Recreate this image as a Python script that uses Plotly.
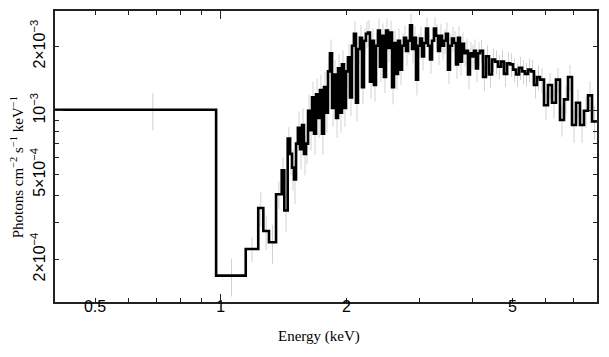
import plotly.graph_objects as go

# Bin edges (keV)
edges = [
    0.40, 0.975, 1.148, 1.23, 1.265, 1.305, 1.357, 1.40, 1.42, 1.447, 1.466,
    1.482, 1.498, 1.515, 1.531, 1.549, 1.566, 1.583, 1.601, 1.619, 1.637,
    1.655, 1.673, 1.692, 1.711, 1.729, 1.748, 1.768, 1.787, 1.807, 1.827,
    1.848, 1.868, 1.889, 1.910, 1.931, 1.952, 1.974, 1.996, 2.018, 2.040,
    2.063, 2.086, 2.109, 2.132, 2.156, 2.180, 2.204, 2.228, 2.253, 2.278,
    2.303, 2.329, 2.355, 2.381, 2.407, 2.434, 2.461, 2.489, 2.516, 2.544,
    2.573, 2.601, 2.630, 2.659, 2.689, 2.719, 2.749, 2.780, 2.810, 2.842,
    2.873, 2.905, 2.937, 2.970, 3.003, 3.036, 3.069, 3.104, 3.138, 3.173,
    3.208, 3.243, 3.280, 3.316, 3.352, 3.389, 3.427, 3.465, 3.503, 3.542,
    3.581, 3.621, 3.661, 3.702, 3.743, 3.785, 3.826, 3.869, 3.912, 3.955,
    3.999, 4.044, 4.088, 4.134, 4.180,
    4.250, 4.320, 4.393, 4.467, 4.541, 4.617, 4.695, 4.772, 4.853, 4.934,
    5.016, 5.100, 5.185, 5.271, 5.357, 5.447, 5.538, 5.630, 5.724, 5.820,
    5.950, 6.082, 6.218, 6.356, 6.499, 6.644, 6.792, 6.944, 7.099, 7.257,
    7.419, 7.586, 7.755, 7.966,
]

# Flux in units of 1e-3 photons cm^-2 s^-1 keV^-1
flux_e3 = [
    1.01, 0.168, 0.224, 0.349, 0.272, 0.241, 0.405, 0.525, 0.34, 0.74,
    0.627, 0.54, 0.475, 0.70, 0.83, 0.66, 0.856, 0.627, 0.70, 1.0,
    0.81, 1.155, 0.78, 1.195, 0.925, 1.25, 0.78, 1.29, 0.978, 1.53,
    1.86, 1.03, 1.48, 0.925, 1.58, 0.978, 1.65, 1.03, 1.53, 1.78,
    1.155, 2.02, 2.30, 1.09, 1.95, 2.20, 1.29, 2.13, 2.30, 2.33,
    1.37, 2.13, 1.32, 2.02, 2.38, 1.61, 2.25, 1.44, 2.38, 1.97,
    2.33, 1.29, 2.08, 1.49, 2.13, 1.56, 2.02, 2.20, 1.91, 2.13,
    2.52, 1.95, 2.20, 1.40, 2.02, 2.18, 1.80, 2.08, 2.43, 2.02,
    1.74, 2.13, 2.43, 2.25, 1.91, 2.25, 2.02, 2.13, 2.30, 1.56,
    2.02, 2.18, 2.08, 1.65, 2.20, 1.70, 2.06, 1.86, 1.91, 1.48,
    1.86, 1.80, 1.91, 1.58, 1.86,
    1.91, 1.44, 1.80, 1.48, 1.74, 1.70, 1.61, 1.70, 1.49, 1.67,
    1.65, 1.56, 1.48, 1.59, 1.53, 1.49, 1.56, 1.53, 1.32, 1.44,
    1.40, 1.06, 1.32, 1.09, 1.40, 0.905, 1.13, 1.44, 0.856, 1.09,
    0.856, 1.0, 1.18, 0.89,
]

# 1-sigma errors, same units
err_e3 = [
    0.20, 0.034, 0.03, 0.065, 0.05, 0.05, 0.06, 0.08, 0.07, 0.10,
    0.13, 0.12, 0.11, 0.14, 0.16, 0.13, 0.17, 0.13, 0.14, 0.19,
    0.16, 0.21, 0.16, 0.22, 0.18, 0.22, 0.16, 0.23, 0.19, 0.26,
    0.30, 0.19, 0.25, 0.18, 0.26, 0.19, 0.27, 0.19, 0.25, 0.28,
    0.21, 0.31, 0.34, 0.20, 0.30, 0.32, 0.22, 0.31, 0.33, 0.33,
    0.23, 0.31, 0.22, 0.30, 0.33, 0.25, 0.32, 0.23, 0.33, 0.29,
    0.32, 0.22, 0.30, 0.24, 0.30, 0.24, 0.29, 0.31, 0.28, 0.30,
    0.34, 0.28, 0.30, 0.22, 0.28, 0.30, 0.26, 0.29, 0.32, 0.28,
    0.25, 0.29, 0.32, 0.30, 0.27, 0.30, 0.28, 0.29, 0.30, 0.23,
    0.27, 0.29, 0.28, 0.24, 0.29, 0.24, 0.27, 0.25, 0.26, 0.22,
    0.25, 0.24, 0.25, 0.22, 0.24,
    0.24, 0.20, 0.23, 0.20, 0.22, 0.22, 0.21, 0.22, 0.20, 0.21,
    0.21, 0.20, 0.19, 0.20, 0.20, 0.19, 0.20, 0.20, 0.18, 0.19,
    0.19, 0.16, 0.18, 0.17, 0.19, 0.15, 0.17, 0.20, 0.15, 0.17,
    0.15, 0.17, 0.19, 0.16,
]

x_labels_vals = [0.5, 0.6, 0.7, 0.8, 0.9, 1, 2, 3, 4, 5, 6, 7]
x_labels_text = ["0.5", " ", " ", " ", " ", "1", "2", " ", " ", "5", " ", " "]
y_tick_vals = [2e-4, 3e-4, 4e-4, 5e-4, 6e-4, 7e-4, 8e-4, 9e-4, 1e-3, 2e-3]
y_tick_text = ["2×10<sup>−4</sup>", " ", " ", "5×10<sup>−4</sup>", " ", " ", " ", " ",
               "10<sup>−3</sup>", "2×10<sup>−3</sup>"]
x_title = "Energy (keV)"
y_title = "Photons cm<sup>−2</sup> s<sup>−1</sup> keV<sup>−1</sup>"

flux = [v * 1e-3 for v in flux_e3]
err = [v * 1e-3 for v in err_e3]
centers = [(a + b) / 2 for a, b in zip(edges[:-1], edges[1:])]

XR = [-0.397, 0.9015]
YR = [-3.8986, -2.5317]
AX = "#222222"

fig = go.Figure()
fig.add_trace(go.Scatter(
    x=centers, y=flux, mode="markers",
    marker=dict(size=1, color="rgba(0,0,0,0)"),
    error_y=dict(type="data", array=err, color="#d2d2d2", thickness=1, width=0),
    showlegend=False, hoverinfo="skip"))
fig.add_trace(go.Scatter(
    x=edges, y=flux + [flux[-1]], mode="lines", line_shape="hv",
    line=dict(color="black", width=2.6), showlegend=False))
fig.add_trace(go.Scatter(x=[], y=[], xaxis="x2", yaxis="y2", showlegend=False))

tickfont = dict(family="Liberation Sans, Arial, sans-serif", size=16, color="black")
titlefont = dict(family="Liberation Serif, Times New Roman, serif", size=15, color="black")

# the page body has an 8px default margin, so the figure is shrunk by that amount
fig.update_layout(
    width=601, height=349,
    margin=dict(l=47, r=12, t=3, b=55),
    paper_bgcolor="white", plot_bgcolor="white",
    xaxis=dict(type="log", range=XR, tickvals=x_labels_vals, ticktext=x_labels_text,
               ticks="inside", ticklen=4, tickwidth=1.3, tickcolor=AX,
               showline=True, linecolor=AX, linewidth=1.5, mirror="ticks",
               showgrid=False, zeroline=False, tickfont=tickfont,
               ticklabelstandoff=-11, automargin=False),
    yaxis=dict(type="log", range=YR, tickvals=y_tick_vals, ticktext=y_tick_text,
               ticks="inside", ticklen=4, tickwidth=1.3, tickcolor=AX,
               showline=True, linecolor=AX, linewidth=1.5, mirror="ticks",
               showgrid=False, zeroline=False, tickfont=tickfont, tickangle=-90,
               ticklabelstandoff=2, automargin=False),
    xaxis2=dict(type="log", range=XR, overlaying="x", anchor="y", side="bottom",
                tickvals=[1], ticks="inside", ticklen=8, tickwidth=1.3, tickcolor=AX,
                showticklabels=False, showline=False, mirror="ticks",
                showgrid=False, zeroline=False, automargin=False),
    yaxis2=dict(type="log", range=YR, overlaying="y", anchor="x", side="left",
                tickvals=[1e-3], ticks="inside", ticklen=8, tickwidth=1.3, tickcolor=AX,
                showticklabels=False, showline=False, mirror="ticks",
                showgrid=False, zeroline=False, automargin=False),
    annotations=[
        dict(text=x_title, xref="paper", yref="paper", x=0.488, y=-0.12,
             xanchor="center", yanchor="middle", showarrow=False, font=titlefont),
        dict(text=y_title, xref="paper", yref="paper", x=-0.0701, y=0.463,
             xanchor="center", yanchor="middle", textangle=-90, showarrow=False,
             font=titlefont),
    ],
)

fig.write_html("out.html")
